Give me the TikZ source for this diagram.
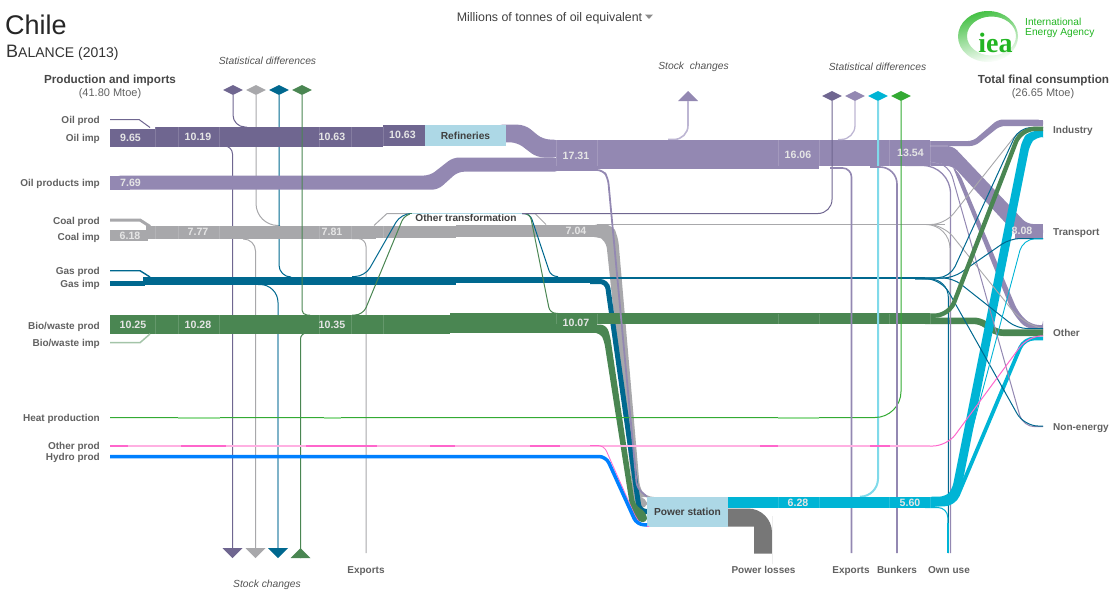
\documentclass[tikz,border=0pt]{standalone}
\usepackage{fontspec}
\setmainfont{Liberation Sans}
\usetikzlibrary{shapes.geometric}
\definecolor{oilc}{HTML}{6F6690}
\definecolor{prodc}{HTML}{9388B2}
\definecolor{paleprodc}{HTML}{BDB6D3}
\definecolor{coalc}{HTML}{A8A8AB}
\definecolor{gasc}{HTML}{00688F}
\definecolor{palegasc}{HTML}{7FB3C9}
\definecolor{bioc}{HTML}{4A8652}
\definecolor{palebioc}{HTML}{A3C4A8}
\definecolor{heatc}{HTML}{33AA33}
\definecolor{paleheatc}{HTML}{99DD99}
\definecolor{otherc}{HTML}{FF66CC}
\definecolor{paleotherc}{HTML}{FFB0E2}
\definecolor{hydroc}{HTML}{0080FF}
\definecolor{elecc}{HTML}{00B4D5}
\definecolor{paleelecc}{HTML}{80DAEA}
\definecolor{lossc}{HTML}{777777}
\definecolor{boxc}{HTML}{ADD8E6}
\definecolor{ieac}{HTML}{22B522}
\tikzset{
  lbl/.style={font=\bfseries\fontsize{10}{10}\selectfont, text=black!62, inner sep=0pt, text height=7.3pt, text depth=2.1pt, yshift=-1.5pt},
  leftlbl/.style={lbl, anchor=east},
  rightlbl/.style={lbl, anchor=west},
  head/.style={font=\bfseries\fontsize{11.7}{12}\selectfont, text=black!72, inner sep=0pt, yshift=-1pt},
  sub/.style={font=\fontsize{11}{11}\selectfont, text=black!62, inner sep=0pt, yshift=-1.5pt},
  note/.style={font=\itshape\fontsize{10.3}{10}\selectfont, text=black!68, inner sep=0pt, yshift=-1pt},
  value/.style={font=\bfseries\fontsize{10.6}{11}\selectfont, text=white!90!black, inner sep=0pt},
  stepbox/.style={fill=boxc, font=\bfseries\fontsize{10.2}{10}\selectfont, text=black!75, inner sep=0pt},
  marker/.style={diamond, aspect=2, minimum width=20pt, minimum height=10pt, inner sep=0pt},
  thin line/.style={line width=1pt, rounded corners=#1},
  thin line/.default=12pt,
  seam/.style={draw=white, draw opacity=0.15, line width=0.6pt}
}
\begin{document}
\begin{tikzpicture}[x=1pt, y=-1pt]
\useasboundingbox (0,0) rectangle (1114,608);

% heading
\node[anchor=west, inner sep=0pt, font=\fontsize{27}{28}\selectfont, text=black!85] (title) at (5,25) {Chile};
\node[anchor=west, inner sep=0pt, text=black!80] (balance) at (6,52.5) {{\fontsize{18}{18}\selectfont B}{\fontsize{14}{14}\selectfont ALANCE (2013)}};
\node[inner sep=0pt, font=\fontsize{12.4}{12}\selectfont, text=black!75, yshift=-1.5pt] (unit) at (549.5,16.5) {Millions of tonnes of oil equivalent};
\fill[black!45] (645,14.5) -- (653,14.5) -- (649,19) -- cycle;

% logo
\shade[even odd rule, left color=ieac!85, right color=white, shading angle=15] (988,36.5) ellipse (30 and 25.5) (991.5,36) ellipse (24.5 and 19.5);
\node[inner sep=0pt, font=\bfseries\fontsize{28}{28}\selectfont, text=ieac] (iea) at (995.5,43) {\fontspec{Liberation Serif}iea};
\node[anchor=west, align=left, inner sep=0pt, font=\fontsize{10.2}{10.2}\selectfont, text=ieac] (ieaname) at (1025,28) {International\\Energy Agency};

\node[head] (prodhead) at (110,79) {Production and imports};
\node[sub] (prodsub) at (110,92) {(41.80 Mtoe)};
\node[head] (conshead) at (1043.5,79) {Total final consumption};
\node[sub] (conssub) at (1043,92) {(26.65 Mtoe)};
\node[note] (sdleft) at (267.5,59.5) {Statistical differences};
\node[note] (sdright) at (877.5,65.5) {Statistical differences};
\node[note] (sctop) at (693.5,65.5) {Stock\ \ changes};
\node[note] (scbottom) at (267,584) {Stock changes};

% sources
\node[leftlbl] (oilprod) at (100,119.5) {Oil prod};
\node[leftlbl] (oilimp) at (100,137.5) {Oil imp};
\node[leftlbl] (prodimp) at (100,182.5) {Oil products imp};
\node[leftlbl] (coalprod) at (100,220) {Coal prod};
\node[leftlbl] (coalimp) at (100,236) {Coal imp};
\node[leftlbl] (gasprod) at (100,270.5) {Gas prod};
\node[leftlbl] (gasimp) at (100,283) {Gas imp};
\node[leftlbl] (bioprod) at (100,325) {Bio/waste prod};
\node[leftlbl] (bioimp) at (100,342.5) {Bio/waste imp};
\node[leftlbl] (heatprod) at (100,417) {Heat production};
\node[leftlbl] (otherprod) at (100,445.5) {Other prod};
\node[leftlbl] (hydroprod) at (100,456) {Hydro prod};

% sectors
\node[rightlbl] (industry) at (1053,129) {Industry};
\node[rightlbl] (transport) at (1053,231) {Transport};
\node[rightlbl] (other) at (1053,332) {Other};
\node[rightlbl] (nonenergy) at (1053,426) {Non-energy};

% bottom labels
\node[lbl] (exportsa) at (366,569) {Exports};
\node[lbl] (losses) at (763.5,569) {Power losses};
\node[lbl] (exportsb) at (851,569) {Exports};
\node[lbl] (bunkers) at (897,569) {Bunkers};
\node[lbl] (ownuse) at (949,569) {Own use};

% markers
\node[marker, fill=oilc] (sdl1) at (233,90) {};
\node[marker, fill=coalc] (sdl2) at (256,90) {};
\node[marker, fill=gasc] (sdl3) at (279,90) {};
\node[marker, fill=bioc] (sdl4) at (302,90) {};
\node[marker, fill=oilc] (sdr1) at (832,96) {};
\node[marker, fill=prodc] (sdr2) at (855,96) {};
\node[marker, fill=elecc] (sdr3) at (878,96) {};
\node[marker, fill=heatc] (sdr4) at (901,96) {};
\coordinate (sc1) at (232.5,548);
\coordinate (sc2) at (255.5,548);
\coordinate (sc3) at (278,548);
\coordinate (sc4) at (300.5,558);
\coordinate (sc5) at (688,101);
\fill[oilc] (sc1) -- ++(-10,0) -- ++(10,10) -- ++(10,-10) -- cycle;
\fill[coalc] (sc2) -- ++(-10,0) -- ++(10,10) -- ++(10,-10) -- cycle;
\fill[gasc] (sc3) -- ++(-10,0) -- ++(10,10) -- ++(10,-10) -- cycle;
\fill[bioc] (sc4) -- ++(-10,0) -- ++(10,-10) -- ++(10,10) -- cycle;
\fill[prodc] (sc5) -- ++(-10,0) -- ++(10,-10) -- ++(10,10) -- cycle;

% thin flows under the bands
\coordinate (oilup) at (247,127);
\coordinate (coalup) at (280,225.5);
\coordinate (gasup) at (291,277);
\coordinate (bioup) at (310,315);
\coordinate (oildown) at (222,146);
\coordinate (coaldown) at (243,239);
\coordinate (gasdown) at (258,284.5);
\coordinate (biodown) at (312,333);
\coordinate (coalexp) at (352,238.5);
\draw[thin line, oilc] (sdl1) |- (oilup);
\draw[thin line=22pt, coalc] (sdl2) |- (coalup);
\draw[thin line, gasc] (sdl3) |- (gasup);
\draw[thin line=8pt, oilc] (oildown) -| (sc1);
\draw[thin line, coalc] (coaldown) -| (sc2);
\draw[thin line=18pt, gasc] (gasdown) -- (278,284.5) -- (278,320);
\draw[palegasc, line width=1.6pt] (278,318) -- (sc3);
\draw[thin line=8pt, coalc] (coalexp) -| (366,553);
\draw[paleprodc, line width=1.6pt, rounded corners=14pt] (sc5) |- (668,139.5);

% oil and products
\fill[oilc] (110,128.5) rectangle (155,146.5);
\fill[oilc] (155,127) rectangle (383,146.5);
\fill[oilc] (383,125) rectangle (425,145.7);
\draw[oilc, line width=1pt] (110,119.5) -- (139,119.5) -- (150,127.5);
\fill[prodc] (110,175.5) rectangle (130,189.7);
\fill[prodc, rounded corners=6pt] (115,175.5) -- (430,175.5) -- (453,157.5) -- (560,157.5) -- (560,171.7) -- (458,171.7) -- (438,189.7) -- (115,189.7) -- cycle;
\fill[prodc, rounded corners=7pt] (495,124.7) -- (525,124.7) -- (543,139.5) -- (560,139.5) -- (560,157.5) -- (537,157.5) -- (517,142.3) -- (495,142.3) -- cycle;
\fill[prodc] (556,139.5) rectangle (597,171);
\fill[prodc] (597,139.5) rectangle (819,169.4);
\fill[prodc] (819,140) rectangle (930,165.7);
\fill[prodc, rounded corners=5pt] (925,141) -- (973,141) -- (998,119.5) -- (1043,119.5) -- (1043,126) -- (1000,126) -- (975,146) -- (925,146) -- cycle;
\fill[prodc] (1020,119.5) rectangle (1043,126);
\fill[prodc, rounded corners=6pt] (925,146) -- (953,146) -- (1027,224) -- (1043,224) -- (1043,238.7) -- (1020,238.7) -- (953,166) -- (925,165.7) -- cycle;
\fill[prodc] (1015,224) rectangle (1043,238.7);
\fill[prodc, rounded corners=8pt] (940,160) -- (950,160) -- (1012,312) -- (1026,329) -- (1043,329) -- (1043,325) -- (1031,325) -- (1018,312) -- (959,172) -- (950,165) -- cycle;
\fill[prodc] (1032,325) rectangle (1043,329);
\draw[seam, draw opacity=0.4] (930,146) -- (948,146) (930,161.5) -- (942,164);

% coal
\draw[coalc, line width=3pt] (110,220) -- (140,220) -- (150,226.5);
\fill[coalc] (110,230) rectangle (148,241.3);
\fill[coalc] (146,225.5) rectangle (376,239);
\fill[coalc] (376,225.7) rectangle (456,237.7);
\fill[coalc] (456,224.5) rectangle (597,236.7);
\draw[coalc, line width=1pt] (374,225.5) -- (387,213.5) -- (412,213.5);
\draw[coalc, line width=1pt] (523,213.5) -- (535,213.5) -- (546,224.5);
\fill[coalc, rounded corners=8pt] (590,224.3) -- (612,224.3) -- (618,236) -- (640,490) -- (646,497) -- (647,497) -- (647,510) -- (634,505) -- (606,240) -- (598,236.7) -- (590,236.7) -- cycle;
\draw[coalc, line width=1pt] (597,224.5) -- (945,224.5);

% gas
\draw[gasc, line width=1.4pt] (110,270.7) -- (140,270.7) -- (150,277);
\fill[gasc] (110,280.7) rectangle (145,286);
\fill[gasc] (143,277) rectangle (456,284.6);
\fill[gasc] (456,276.5) rectangle (597,283.2);
\fill[gasc] (597,276.5) rectangle (925,279.4);
\draw[gasc, line width=5pt, rounded corners=7pt] (590,281.5) -- (607,281.5) -- (639.5,511.5) -- (647,511.5);
\draw[thin line=5pt, bioc] (sdl4) |- (bioup);
\draw[thin line=10pt, gasc] (352,276.5) -- (365,276.5) -- (401,213.5) -- (412,213.5);
\draw[thin line=6pt, gasc] (522,213.5) -- (530,213.5) -- (551,276.5) -- (558,276.5);

% biomass
\fill[bioc] (110,315) rectangle (450,334.3);
\fill[bioc] (450,313.3) rectangle (597,332.7);
\fill[bioc] (597,313.3) rectangle (930,324.2);
\draw[palebioc, line width=1.5pt] (110,342.7) -- (140,342.7) -- (150,334);
\draw[thin line=6pt, bioc] (biodown) -| (sc4);
\draw[thin line=8pt, bioc] (352,315) -- (363,315) -- (405,213.5) -- (412,213.5);
\draw[thin line=6pt, bioc] (525,213.5) -- (530,213.5) -- (550,313.3) -- (558,313.3);
\fill[bioc, rounded corners=6pt] (590,324.5) -- (606,324.5) -- (610,335) -- (635,505) -- (647,513) -- (647,523.5) -- (632,519) -- (604,340) -- (600,332.7) -- (590,332.7) -- cycle;
\draw[bioc, line width=6.6pt, rounded corners=6pt] (925,320.8) -- (980,320.8) -- (997,332.7) -- (1043,332.7);

% boxes
\node[stepbox, minimum width=81pt, minimum height=21pt] (refineries) at (465.5,135.4) {Refineries};
\node[stepbox, minimum width=81pt, minimum height=30pt] (powerstation) at (687.5,511.7) {Power station};
\node[inner sep=0pt, fill=white, minimum width=112pt, minimum height=8.5pt, font=\bfseries\fontsize{10.1}{10}\selectfont, text=black!75] (othertrans) at (466,218.2) {Other transformation};
\draw[boxc, line width=1pt] (412,213.5) -- (522,213.5);

% right thin flows
\draw[thin line=14pt, oilc] (522,213.5) -| (sdr1);
\draw[thin line=14pt, paleprodc, line width=1.3pt] (838,139.5) -| (sdr2);
\draw[paleelecc, line width=2pt, rounded corners=18pt] (sdr3) |- (860,496.7);
\draw[heatc, line width=1pt, rounded corners=26pt] (sdr4) |- (110,417.5);
\draw[thin line=9pt, prodc, line width=1.6pt] (830,168) -| (851.5,553);
\draw[thin line=17pt, prodc, line width=1.6pt] (870,167) -| (897,553);
\draw[thin line=28pt, prodc, line width=1.3pt] (905,165.5) -| (950.5,553);
\draw[thin line=24pt, coalc, line width=0.9pt] (905,224.5) -| (950,320);
\draw[thin line=18pt, gasc] (915,279) -| (948.3,553);

% electricity
\draw[elecc, line width=1pt, rounded corners=10pt] (925,507.5) -| (947.8,525);
\draw[elecc, line width=2pt] (947.8,523) -- (947.8,553);
\fill[lossc] (728,508.5) [rounded corners=24pt] -- (772,508.5) -- (772,540) [sharp corners] -- (772,553.7) -- (754,553.7) -- (754,526.7) -- (728,526.7) -- cycle;
\fill[elecc] (728,496.7) rectangle (935,507.7);
\fill[elecc, rounded corners=7pt] (925,496.7) -- (946,496.7) -- (952,490) -- (1022,140) -- (1029,131) -- (1043,131) -- (1043,137) -- (1036,137) -- (1030,144) -- (961,490) -- (951,505) -- (925,507.7) -- cycle;
\fill[elecc] (1034,131) rectangle (1043,137);
\draw[elecc, line width=3.8pt, rounded corners=10pt] (925,504.5) -- (954,504.5) -- (1024,338.5) -- (1043,338.5);

% last legs of the other flows
\draw[thin line=14pt, coalc, line width=0.9pt] (925,224.5) -- (945,224.5) -- (1022,127) -- (1043,127);
\draw[thin line=14pt, coalc, line width=0.9pt] (930,224.5) -- (944,225.5) -- (1021,321) -- (1043,329);
\draw[thin line=12pt, prodc] (930,161) -- (949,165) -- (1023,427) -- (1043,426.5);
\draw[thin line=12pt, gasc] (925,278) -- (950,277.5) -- (1019,127.5) -- (1043,127.5);
\draw[thin line=10pt, gasc] (925,278) -- (953,278) -- (1010,238.5) -- (1043,238.5);
\draw[thin line=10pt, gasc] (925,278) -- (953,278) -- (1017,328.5) -- (1043,328.5);
\draw[thin line=14pt, gasc] (922,278.5) -- (942,280) -- (1024,426) -- (1043,426);
\draw[bioc, line width=4.4pt, rounded corners=14pt] (925,315.6) -- (949,315.6) -- (1021,128.8) -- (1043,128.8);
\draw[thin line=12pt, elecc, line width=0.9pt] (945,498) -- (954,498) -- (1023,238.8) -- (1043,238.8);
\draw[thin line=14pt, otherc] (925,446) -- (947,446) -- (1028,336) -- (1043,335.8);

% oil going to the power station
\draw[prodc, line width=1.8pt, rounded corners=6pt] (590,170) -- (603,170) -- (608,178) -- (637,488) -- (647,496.7);

% heat, other and hydro
\foreach \xa/\xb in {178/220, 324/341, 778/819}
  \draw[paleheatc, line width=1.6pt] (\xa,418) -- (\xb,418);
\draw[paleotherc, line width=1.6pt] (110,446) -- (930,446);
\foreach \xa/\xb in {110/128, 181/226, 306/377, 430/455, 530/560, 760/778, 870/890}
  \draw[otherc, line width=1.2pt] (\xa,446) -- (\xb,446);
\draw[otherc, line width=0.8pt, rounded corners=6pt] (590,445.5) -- (604,445.5) -- (636,518) -- (643,526.5) -- (647,526.5);
\draw[hydroc, line width=3.5pt, rounded corners=7pt] (110,456.5) -- (606,456.5) -- (637,524.8) -- (647,524.8);

% seams
\foreach \xa in {155,178,219,319,351,383}
  \draw[seam] (\xa,127) -- (\xa,146.5) (\xa,225.5) -- (\xa,239) (\xa,315) -- (\xa,334);
\foreach \xa in {556,597,778,819,889,930}
  \draw[seam] (\xa,140) -- (\xa,166) (\xa,313.5) -- (\xa,324) (\xa,497) -- (\xa,507.5);

% values
\node[value] (v1) at (130.5,137.5) {9.65};
\node[value] (v2) at (198,136.5) {10.19};
\node[value] (v3) at (332,136.5) {10.63};
\node[value] (v4) at (402.5,134.5) {10.63};
\node[value] (v5) at (130.5,182.7) {7.69};
\node[value] (v6) at (130,235.5) {6.18};
\node[value] (v7) at (198,231.5) {7.77};
\node[value] (v8) at (332,231.5) {7.81};
\node[value] (v9) at (576,231) {7.04};
\node[value] (v10) at (133,324.7) {10.25};
\node[value] (v11) at (198,324.7) {10.28};
\node[value] (v12) at (332,324.7) {10.35};
\node[value] (v13) at (576,322.5) {10.07};
\node[value] (v14) at (576,155.5) {17.31};
\node[value] (v15) at (798,154.5) {16.06};
\node[value] (v16) at (910.5,152.5) {13.54};
\node[value] (v17) at (1022,231) {8.08};
\node[value] (v18) at (798,502.5) {6.28};
\node[value] (v19) at (910,502.5) {5.60};
\end{tikzpicture}
\end{document}
